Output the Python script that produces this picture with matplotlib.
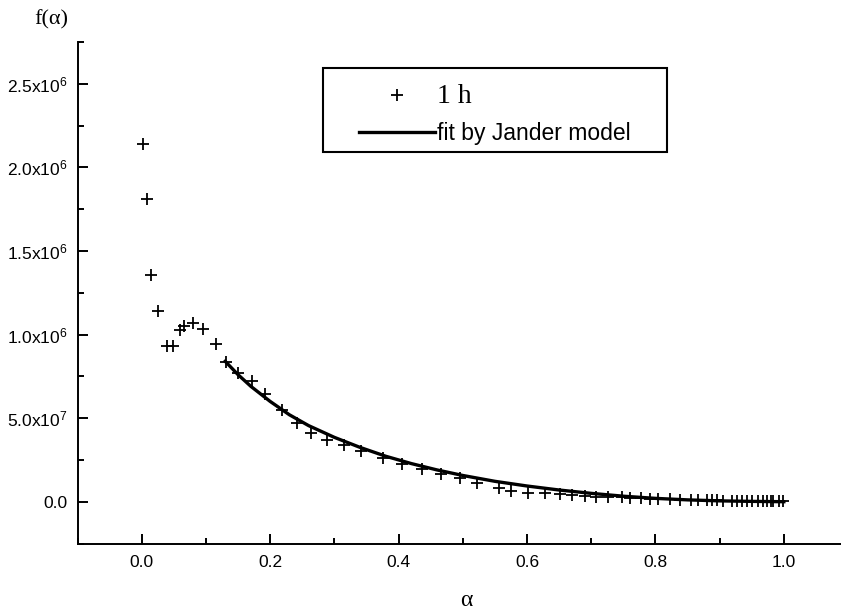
import numpy as np
import matplotlib
matplotlib.use("Agg")
from matplotlib import pyplot as plt
from matplotlib import font_manager, patches

# measured points (alpha, f(alpha) in units of 1e6)
alpha_1h = [0.002, 0.008, 0.015, 0.026, 0.040, 0.048, 0.060, 0.066, 0.080, 0.096,
            0.115, 0.131, 0.150, 0.171, 0.192, 0.219, 0.242, 0.264, 0.289, 0.315,
            0.342, 0.376, 0.405, 0.437, 0.466, 0.496, 0.522, 0.556, 0.575, 0.602,
            0.628, 0.652, 0.670, 0.690, 0.708, 0.726, 0.748, 0.761, 0.777, 0.791,
            0.804, 0.823, 0.839, 0.855, 0.867, 0.881, 0.888, 0.896, 0.905, 0.919,
            0.927, 0.935, 0.942, 0.950, 0.960, 0.967, 0.973, 0.980, 0.983, 0.992,
            0.998]
f_1h = [2.138, 1.808, 1.359, 1.140, 0.930, 0.930, 1.026, 1.050, 1.070, 1.034,
        0.946, 0.834, 0.770, 0.722, 0.647, 0.551, 0.473, 0.413, 0.371, 0.341,
        0.305, 0.263, 0.228, 0.198, 0.168, 0.144, 0.114, 0.084, 0.066, 0.054,
        0.050, 0.045, 0.040, 0.032, 0.030, 0.027, 0.026, 0.022, 0.020, 0.018,
        0.016, 0.014, 0.012, 0.011, 0.010, 0.009, 0.008, 0.008, 0.007, 0.006,
        0.006, 0.005, 0.005, 0.004, 0.004, 0.003, 0.003, 0.003, 0.002, 0.002,
        0.002]

# Jander fit curve
alpha_fit = [0.13, 0.15, 0.17, 0.20, 0.23, 0.26, 0.30, 0.34, 0.38, 0.42, 0.46,
             0.50, 0.55, 0.60, 0.65, 0.70, 0.75, 0.80, 0.85, 0.90, 0.95, 1.00]
f_fit = [0.84, 0.76, 0.69, 0.60, 0.52, 0.455, 0.385, 0.325, 0.272, 0.228, 0.190,
         0.157, 0.122, 0.094, 0.070, 0.050, 0.033, 0.020, 0.011, 0.005, 0.002, 0.0]

xticks = [0.0, 0.2, 0.4, 0.6, 0.8, 1.0]
xtick_labels = ['0.0', '0.2', '0.4', '0.6', '0.8', '1.0']
yticks = [0.0, 0.5e6, 1.0e6, 1.5e6, 2.0e6, 2.5e6]
ytick_labels = ['0.0', '5.0x10^{7}', '1.0x10^{6}', '1.5x10^{6}', '2.0x10^{6}', '2.5x10^{6}']

names = {f.name for f in font_manager.fontManager.ttflist}
sans = 'Liberation Sans Narrow' if 'Liberation Sans Narrow' in names else 'Liberation Sans'
serif = 'Liberation Serif'

plt.rcParams['mathtext.fontset'] = 'custom'
plt.rcParams['mathtext.rm'] = sans
plt.rcParams['font.family'] = [sans, 'DejaVu Sans']

fig = plt.figure(figsize=(8.41, 6.13), dpi=100)
ax = fig.add_axes([77.5 / 841, 1 - 543.5 / 613, 1 - 77.5 / 841, (543.5 - 42) / 613])

pts, = ax.plot(alpha_1h, np.array(f_1h) * 1e6, ls='none', marker='+', ms=9, mew=1.3,
               color='black')
fit, = ax.plot(alpha_fit, np.array(f_fit) * 1e6, color='black', lw=2.4)

ax.set_xlim(-0.1, 1.089)
ax.set_ylim(-0.25e6, 2.75e6)
ax.spines['top'].set_visible(False)
ax.spines['right'].set_visible(False)
ax.spines['left'].set_linewidth(1.4)
ax.spines['bottom'].set_linewidth(1.4)

ax.set_xticks(xticks)
ax.set_xticklabels(xtick_labels)
ax.set_xticks(np.arange(-0.1, 1.09, 0.1), minor=True)
ax.set_yticks(yticks)
ax.set_yticklabels([r'$\mathregular{' + s + '}$' if 'x' in s else s for s in ytick_labels])
ax.set_yticks(np.arange(-0.25e6, 2.76e6, 0.25e6), minor=True)
ax.tick_params(which='major', direction='in', length=7.5, width=1.4, labelsize=12.5, pad=8)
ax.tick_params(which='minor', direction='in', length=4.3, width=1.4)
ax.tick_params(axis='y', pad=7)

fig.text(51 / 841, 1 - 20 / 613, 'f(α)', family=serif, size=16, ha='center', va='center')
fig.text(466 / 841, 1 - 601 / 613, 'α', family=serif, size=17, ha='center', va='center')

# legend box
fig.patches.append(patches.Rectangle((323 / 841, 1 - 152 / 613), 344 / 841, 84 / 613,
                                     transform=fig.transFigure, fill=False, lw=1.5,
                                     ec='black'))
leg = ax.legend([pts, fit], ['1 h', 'fit by Jander model'], frameon=False,
                loc='upper left', bbox_to_anchor=(359 / 841, 1 - 84 / 613),
                bbox_transform=fig.transFigure, borderpad=0, borderaxespad=0,
                handlelength=3.3, handletextpad=0.1, fontsize=16.5, labelspacing=0.55,
                numpoints=1)
leg.get_texts()[0].set_family(serif)
leg.get_texts()[0].set_fontsize(20)

fig.savefig('out.png', dpi=100)
